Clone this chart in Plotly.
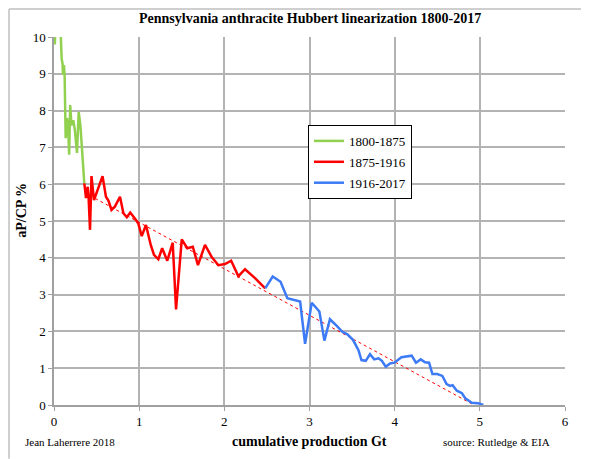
import plotly.graph_objects as go

# ---- data ----
green_x = [0.0, 0.01, 0.02, 0.07, 0.09, 0.10, 0.106, 0.117, 0.125, 0.133, 0.137, 0.153, 0.165,
           0.178, 0.19, 0.205, 0.227, 0.245, 0.27, 0.29, 0.31, 0.356]
green_y = [10.6, 9.8, 10.6, 10.6, 9.4, 9.28, 8.97, 9.24, 8.92, 8.0, 7.25, 7.8, 7.6,
           6.8, 8.15, 7.6, 7.74, 7.47, 6.85, 7.96, 7.6, 6.02]

red_x = [0.356, 0.376, 0.395, 0.405, 0.423, 0.44, 0.47, 0.52, 0.57, 0.61, 0.64, 0.675, 0.715,
         0.775, 0.815, 0.855, 0.895, 0.95, 0.99, 1.03, 1.08, 1.136, 1.174, 1.225, 1.27, 1.33,
         1.394, 1.433, 1.50, 1.565, 1.63, 1.69, 1.773, 1.85, 1.93, 2.008, 2.08, 2.165, 2.243,
         2.36, 2.48]
red_y = [6.02, 5.62, 5.93, 5.7, 4.76, 6.22, 5.57, 5.89, 6.22, 5.66, 5.55, 5.3, 5.39, 5.66,
         5.21, 5.1, 5.23, 5.07, 4.93, 4.59, 4.89, 4.35, 4.08, 3.96, 4.26, 3.92, 4.41, 2.6, 4.5,
         4.26, 4.3, 3.8, 4.35, 4.03, 3.8, 3.83, 3.92, 3.5, 3.69, 3.45, 3.17]

blue_x = [2.48, 2.568, 2.66, 2.74, 2.89, 2.948, 3.026, 3.116, 3.175, 3.24, 3.32, 3.386, 3.445,
          3.51, 3.575, 3.61, 3.66, 3.71, 3.76, 3.81, 3.85, 3.895, 3.946, 3.997, 4.08, 4.14,
          4.2, 4.25, 4.306, 4.357, 4.404, 4.443, 4.5, 4.56, 4.61, 4.65, 4.68, 4.73, 4.79, 4.83,
          4.905, 4.98, 5.02, 5.04]
blue_y = [3.17, 3.49, 3.35, 2.9, 2.81, 1.66, 2.78, 2.54, 1.75, 2.33, 2.15, 1.99, 1.92,
          1.77, 1.49, 1.22, 1.2, 1.38, 1.24, 1.27, 1.2, 1.04, 1.13, 1.15, 1.3, 1.31,
          1.34, 1.15, 1.24, 1.16, 1.15, 0.84, 0.84, 0.79, 0.57, 0.52, 0.54, 0.39, 0.32, 0.18,
          0.06, 0.05, 0.02, 0.0]

trend_x = [0.36, 4.93]
trend_y = [5.77, 0.0]

series_names = ["1800-1875", "1875-1916", "1916-2017"]
x_ticks = [0, 1, 2, 3, 4, 5, 6]
y_ticks = [0, 1, 2, 3, 4, 5, 6, 7, 8, 9, 10]

SERIF = "Liberation Serif, Times New Roman, serif"
GREEN = "#92d050"
RED = "#ff0000"
BLUE = "#3d7af5"

fig = go.Figure()
fig.add_trace(go.Scatter(x=trend_x, y=trend_y, mode="lines", showlegend=False,
                         line=dict(color=RED, width=1, dash="3px,3px"), hoverinfo="skip"))
for xs, ys, name, col, grp in [(green_x, green_y, series_names[0], GREEN, "g"),
                               (red_x, red_y, series_names[1], RED, "r"),
                               (blue_x, blue_y, series_names[2], BLUE, "b")]:
    fig.add_trace(go.Scatter(x=xs, y=ys, mode="lines", name=name, legendgroup=grp,
                             line=dict(color=col, width=2.5)))

grid_col = "#b3b3b3"
axis_common = dict(showgrid=True, gridcolor=grid_col, gridwidth=1.5,
                   showline=True, linecolor="#a0a0a0", linewidth=1.5,
                   ticks="outside", ticklen=4, tickcolor="#a0a0a0",
                   tickfont=dict(family=SERIF, size=13, color="black"), zeroline=False)
fig.update_xaxes(range=[0, 6], tickvals=x_ticks, ticktext=[str(v) for v in x_ticks], **axis_common)
fig.update_yaxes(range=[0, 10], tickvals=y_ticks, ticktext=[str(v) for v in y_ticks], **axis_common)

border = dict(color="#bfbfbf", width=1.5)
# the page body has an 8px default margin, so the figure is offset by 8px
fig.update_layout(
    width=581, height=451,
    margin=dict(l=46, r=24, t=29, b=54),
    font=dict(family=SERIF, size=13, color="black"),
    paper_bgcolor="white", plot_bgcolor="white",
    showlegend=True,
    legend=dict(x=0.497, y=0.761, xanchor="left", yanchor="top",
                bgcolor="white", bordercolor="black", borderwidth=1,
                font=dict(family=SERIF, size=13, color="black"),
                traceorder="grouped", tracegroupgap=1, itemwidth=30),
    annotations=[
        dict(text="<b>Pennsylvania anthracite Hubbert linearization 1800-2017</b>",
             xref="paper", yref="paper", x=0.5, y=1.05, xanchor="center", yanchor="middle",
             showarrow=False, font=dict(family=SERIF, size=14, color="black")),
        dict(text="<b>aP/CP %</b>", xref="paper", yref="paper", x=-0.063, y=0.53,
             textangle=-90, xanchor="center", yanchor="middle", showarrow=False,
             font=dict(family=SERIF, size=14, color="black")),
        dict(text="<b>cumulative production Gt</b>", xref="paper", yref="paper",
             x=0.5, y=-0.1, xanchor="center", yanchor="middle", showarrow=False,
             font=dict(family=SERIF, size=14, color="black")),
        dict(text="Jean Laherrere 2018", xref="paper", yref="paper",
             x=-0.06, y=-0.1, xanchor="left", yanchor="middle", showarrow=False,
             font=dict(family=SERIF, size=11, color="black")),
        dict(text="source: Rutledge &amp; EIA", xref="paper", yref="paper",
             x=0.865, y=-0.1, xanchor="center", yanchor="middle", showarrow=False,
             font=dict(family=SERIF, size=11, color="black")),
    ],
    shapes=[
        dict(type="line", xref="paper", yref="paper", x0=-0.088, y0=1.076, x1=1.046, y1=1.076,
             line=border, layer="above"),
        dict(type="line", xref="paper", yref="paper", x0=-0.088, y0=1.076, x1=-0.088, y1=-0.146,
             line=border, layer="above"),
    ],
)

fig.write_html("out.html")
